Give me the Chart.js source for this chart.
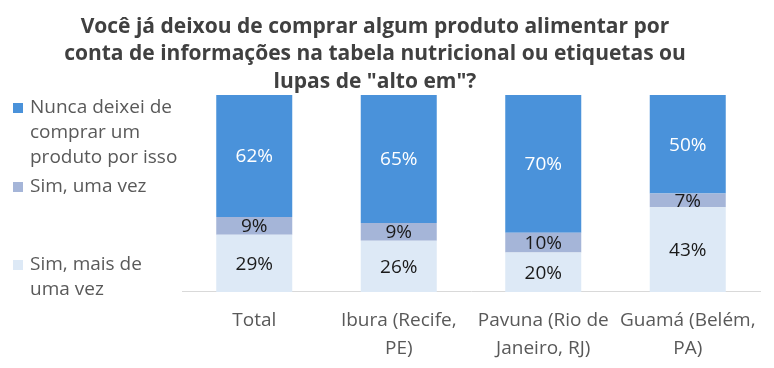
<!DOCTYPE html>
<html lang="pt-br">
<head>
    <meta charset="UTF-8">
    <title>Deixou de comprar</title>
    <script src="https://cdn.jsdelivr.net/npm/chart.js"></script>
    <style>
        body {
            margin: 0;
            background-color: #ffffff;
        }

        .chart-wrapper {
            width: 774px;
            height: 368px;
        }
    </style>
</head>
<body>
    <div class="chart-wrapper">
        <canvas id="chart" width="774" height="368"></canvas>
    </div>

    <script>
        const categories = [['Total'], ['Ibura (Recife,', 'PE)'], ['Pavuna (Rio de', 'Janeiro, RJ)'], ['Guamá (Belém,', 'PA)']];
        const nunca = [62, 65, 70, 50];
        const umaVez = [9, 9, 10, 7];
        const maisDeUma = [29, 26, 20, 43];

        const titleLines = ['Você já deixou de comprar algum produto alimentar por', 'conta de informações na tabela nutricional ou etiquetas ou', 'lupas de "alto em"?'];
        const legendItems = [
            { lines: ['Nunca deixei de', 'comprar um', 'produto por isso'], color: '#4a92da', y: 108 },
            { lines: ['Sim, uma vez'], color: '#a5b5d8', y: 187 },
            { lines: ['Sim, mais de', 'uma vez'], color: '#dde9f6', y: 265 }
        ];

        const FONT = '"Open Sans", Arial, sans-serif';

        // titulo, legenda e rotulos desenhados a mao
        const extras = {
            id: 'extras',
            afterDatasetsDraw(chart) {
                const ctx = chart.ctx;
                ctx.save();

                // rotulos de dados
                ctx.font = '19px ' + FONT;
                ctx.textAlign = 'center';
                ctx.textBaseline = 'middle';
                chart.data.datasets.forEach((ds, i) => {
                    const meta = chart.getDatasetMeta(i);
                    meta.data.forEach((bar, j) => {
                        const mid = (bar.y + bar.base) / 2;
                        ctx.fillStyle = ds.labelColor;
                        ctx.fillText(ds.data[j] + '%', bar.x, mid + 1);
                    });
                });

                // titulo
                ctx.font = 'bold 21px ' + FONT;
                ctx.fillStyle = '#404040';
                titleLines.forEach((t, i) => ctx.fillText(t, 375, 27 + i * 27.5));

                // legenda
                ctx.font = '19px ' + FONT;
                ctx.textAlign = 'left';
                legendItems.forEach(item => {
                    ctx.fillStyle = item.color;
                    ctx.fillRect(13, item.y - 5, 10, 10);
                    ctx.fillStyle = '#595959';
                    item.lines.forEach((l, k) => ctx.fillText(l, 30, item.y + k * 25));
                });

                ctx.restore();
            }
        };

        new Chart(document.getElementById('chart'), {
            type: 'bar',
            data: {
                labels: categories,
                datasets: [
                    { label: 'Sim, mais de uma vez', data: maisDeUma, backgroundColor: '#dde9f6', labelColor: '#1a1a1a' },
                    { label: 'Sim, uma vez', data: umaVez, backgroundColor: '#a5b5d8', labelColor: '#1a1a1a' },
                    { label: 'Nunca deixei de comprar um produto por isso', data: nunca, backgroundColor: '#4a92da', labelColor: '#ffffff' }
                ]
            },
            options: {
                responsive: false,
                animation: false,
                layout: {
                    padding: { left: 182, right: 14, top: 95, bottom: -9 }
                },
                datasets: {
                    bar: { categoryPercentage: 1, barPercentage: 0.526 }
                },
                plugins: {
                    legend: { display: false },
                    title: { display: false },
                    tooltip: { enabled: false }
                },
                scales: {
                    x: {
                        stacked: true,
                        grid: { display: false, drawTicks: false },
                        border: { display: true, color: '#d9d9d9', width: 1 },
                        ticks: {
                            color: '#595959',
                            padding: 15,
                            font: { family: FONT, size: 19, lineHeight: 1.45 }
                        }
                    },
                    y: {
                        stacked: true,
                        display: false,
                        min: 0,
                        max: 100
                    }
                }
            },
            plugins: [extras]
        });
    </script>
</body>
</html>
